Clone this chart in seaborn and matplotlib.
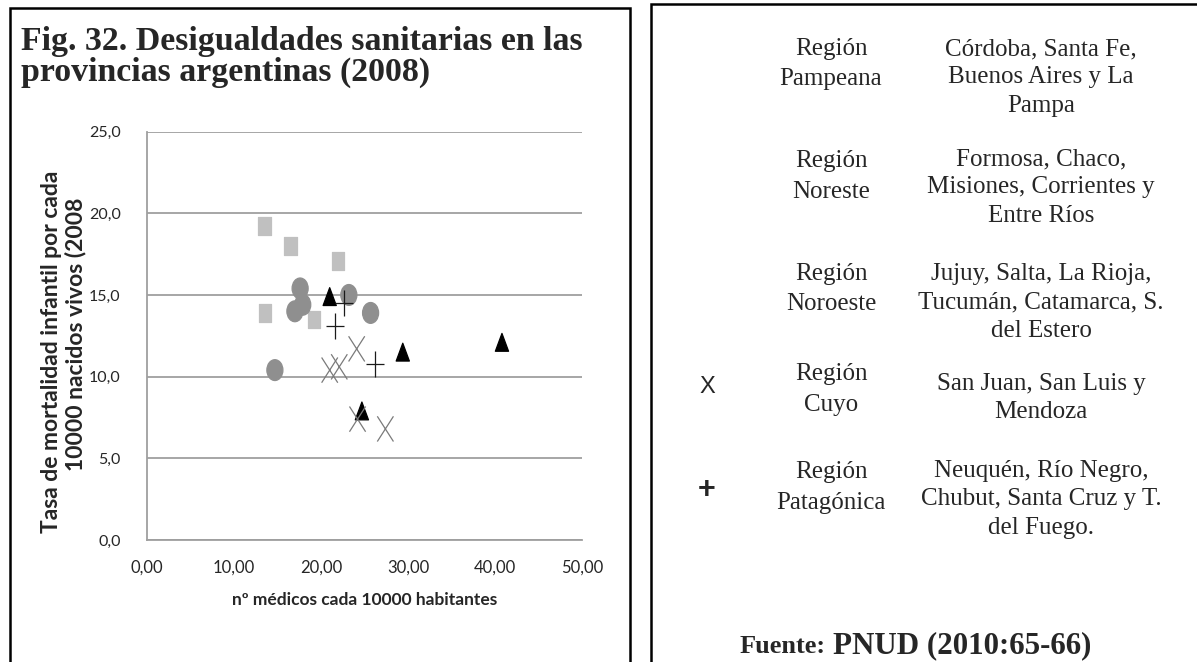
import numpy as np
import pandas as pd
import matplotlib
matplotlib.use("Agg")
import matplotlib.pyplot as plt
from matplotlib.path import Path
from matplotlib.patches import Rectangle
from matplotlib.transforms import Affine2D
import seaborn as sns

# nº médicos cada 10000 hab. (x) / mortalidad infantil (y), por región
pampeana_x = [21.0, 29.4, 40.8, 24.7]
pampeana_y = [14.9, 11.5, 12.1, 7.9]
noreste_x = [13.5, 16.5, 22.0, 13.6, 19.2]
noreste_y = [19.2, 18.0, 17.1, 13.9, 13.5]
noroeste_x = [17.6, 17.9, 17.0, 23.2, 25.7, 14.7]
noroeste_y = [15.4, 14.4, 14.0, 15.0, 13.9, 10.4]
cuyo_x = [24.1, 21.0, 22.1, 24.2, 27.4]
cuyo_y = [11.7, 10.4, 10.6, 7.4, 6.8]
patagonia_x = [22.6, 21.6, 26.2]
patagonia_y = [14.5, 13.1, 10.8]

regions = ["Pampeana", "Noreste", "Noroeste", "Cuyo", "Patagónica"]

x_ticks = [0, 10, 20, 30, 40, 50]
x_tick_labels = ["0,00", "10,00", "20,00", "30,00", "40,00", "50,00"]
y_ticks = [0, 5, 10, 15, 20, 25]
y_tick_labels = ["0,0", "5,0", "10,0", "15,0", "20,0", "25,0"]

title_lines = ["Fig. 32. Desigualdades sanitarias en las", "provincias argentinas (2008)"]
ylabel_lines = ["Tasa de mortalidad infantil por cada", "10000 nacidos vivos (2008"]
xlabel = "nº médicos cada 10000 habitantes"

legend_symbols = ["", "", "", "X", "+"]
legend_names = [["Región", "Pampeana"], ["Región", "Noreste"], ["Región", "Noroeste"],
                ["Región", "Cuyo"], ["Región", "Patagónica"]]
legend_provinces = [["Córdoba, Santa Fe,", "Buenos Aires y La", "Pampa"],
                    ["Formosa, Chaco,", "Misiones, Corrientes y", "Entre Ríos"],
                    ["Jujuy, Salta, La Rioja,", "Tucumán, Catamarca, S.", "del Estero"],
                    ["San Juan, San Luis y", "Mendoza"],
                    ["Neuquén, Río Negro,", "Chubut, Santa Cruz y T.", "del Fuego."]]
source_label = "Fuente:"
source_ref = "PNUD (2010:65-66)"

W, H = 1197, 662


def px(x, y):
    # pixel position (from top-left) -> figure fraction
    return x / W, 1 - y / H


# markers are a bit taller than wide in the original picture
rect = Path([(-0.34, -0.5), (0.34, -0.5), (0.34, 0.5), (-0.34, 0.5), (-0.34, -0.5)],
            [Path.MOVETO, Path.LINETO, Path.LINETO, Path.LINETO, Path.CLOSEPOLY])
ellipse = Path.unit_circle().transformed(Affine2D().scale(0.77, 1.0))
tri = Path([(0, 0.5), (-0.37, -0.5), (0.37, -0.5), (0, 0.5)],
           [Path.MOVETO, Path.LINETO, Path.LINETO, Path.CLOSEPOLY])
cross = Path([(-0.32, -0.5), (0.32, 0.5), (-0.32, 0.5), (0.32, -0.5)],
             [Path.MOVETO, Path.LINETO, Path.MOVETO, Path.LINETO])
plus = Path([(0, -0.5), (0, 0.5), (-0.35, 0), (0.35, 0)],
            [Path.MOVETO, Path.LINETO, Path.MOVETO, Path.LINETO])

markers = {"Pampeana": tri, "Noreste": rect, "Noroeste": ellipse, "Cuyo": cross, "Patagónica": plus}
palette = {"Pampeana": "#000000", "Noreste": "#c0c0c0", "Noroeste": "#8f8f8f",
           "Cuyo": "#7a7a7a", "Patagónica": "#1a1a1a"}
sizes = {"Pampeana": 165, "Noreste": 165, "Noroeste": 225, "Cuyo": 330, "Patagónica": 350}

all_x = [pampeana_x, noreste_x, noroeste_x, cuyo_x, patagonia_x]
all_y = [pampeana_y, noreste_y, noroeste_y, cuyo_y, patagonia_y]
df = pd.concat([pd.DataFrame({"x": xs, "y": ys, "region": r})
                for r, xs, ys in zip(regions, all_x, all_y)], ignore_index=True)

sns.set_style("white")
plt.rcParams["font.family"] = ["Lato", "DejaVu Sans"]

fig = plt.figure(figsize=(W / 100, H / 100), dpi=100)
ax = fig.add_axes([147 / W, 1 - 540 / H, (582 - 147) / W, (540 - 131.6) / H])

sns.scatterplot(data=df, x="x", y="y", hue="region", style="region", size="region",
                palette=palette, markers=markers, sizes=sizes, edgecolor="face",
                linewidth=0.9, legend=False, ax=ax, zorder=3)

ax.set_xlim(0, 50)
ax.set_ylim(0, 25)
ax.set_xticks(x_ticks)
ax.set_xticklabels(x_tick_labels)
ax.set_yticks(y_ticks)
ax.set_yticklabels(y_tick_labels)
ax.set_xlabel("")
ax.set_ylabel("")
ax.grid(axis="y", color="#9f9f9f", lw=1.3)
ax.grid(axis="x", visible=False)
ax.set_axisbelow(True)
for s in ["top", "right"]:
    ax.spines[s].set_visible(False)
for s in ["left", "bottom"]:
    ax.spines[s].set_color("#9f9f9f")
    ax.spines[s].set_linewidth(1.3)
ax.tick_params(axis="both", length=0, labelcolor="#262626")
ax.tick_params(axis="y", pad=19, labelsize=11.5)
ax.tick_params(axis="x", pad=14, labelsize=12)

# axis titles
fig.text(*px(365, 600), xlabel, ha="center", va="center", fontsize=12.5,
         fontweight="bold", color="#262626")
fig.text(*px(52, 352), ylabel_lines[0], ha="center", va="center", rotation=90,
         fontsize=16.5, fontweight="bold", color="#262626")
fig.text(*px(76, 334), ylabel_lines[1], ha="center", va="center", rotation=90,
         fontsize=16.5, fontweight="bold", color="#262626")

# title of left panel
serif = ["Liberation Serif", "DejaVu Serif"]
for i, line in enumerate(title_lines):
    fig.text(*px(21, 50 + 31 * i), line, ha="left", va="baseline", fontsize=24.4,
             fontweight="bold", family=serif)

# panel frames
fig.add_artist(Rectangle(px(10, 800), 620 / W, (800 - 7.5) / H, transform=fig.transFigure,
                         fill=False, lw=1.8, ec="black", clip_on=False))
fig.add_artist(Rectangle(px(651, 800), 700 / W, (800 - 3.5) / H, transform=fig.transFigure,
                         fill=False, lw=1.8, ec="black", clip_on=False))

# right panel: region table
name_start = [55, 167, 280, 380, 478]
prov_start = [55, 165, 280, 390, 477]
sym_y = [0, 0, 0, 387, 490]
for i in range(len(regions)):
    for j, line in enumerate(legend_names[i]):
        fig.text(*px(831, name_start[i] + 30.5 * j), line, ha="center", va="baseline",
                 fontsize=18, family=serif)
    for j, line in enumerate(legend_provinces[i]):
        fig.text(*px(1041, prov_start[i] + 28.5 * j), line, ha="center", va="baseline",
                 fontsize=18, family=serif)
    if legend_symbols[i]:
        bold = "bold" if legend_symbols[i] == "+" else "normal"
        size = 22 if legend_symbols[i] == "+" else 17
        fig.text(*px(707, sym_y[i]), legend_symbols[i], ha="center", va="center",
                 fontsize=size, fontweight=bold, family=["Liberation Sans", "DejaVu Sans"])

fig.text(*px(740, 653), source_label, ha="left", va="baseline", fontsize=19,
         fontweight="bold", family=serif)
fig.text(*px(833, 653), source_ref, ha="left", va="baseline", fontsize=22.3,
         fontweight="bold", family=serif)

fig.savefig("out.png", dpi=100)
